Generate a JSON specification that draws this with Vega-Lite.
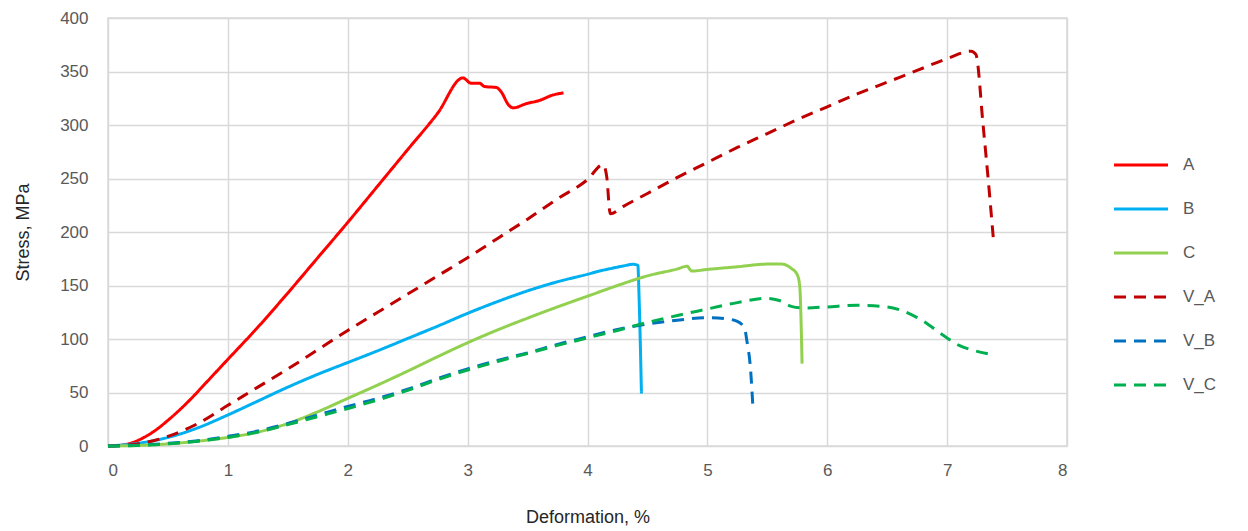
{
  "$schema": "https://vega.github.io/schema/vega-lite/v6.json",
  "width": 959,
  "height": 428,
  "autosize": "none",
  "padding": {"left": 108, "top": 18, "right": 181, "bottom": 85},
  "background": "white",
  "config": {
    "font": "Liberation Sans",
    "view": {"stroke": "#d9d9d9", "strokeWidth": 1.5},
    "axis": {"gridColor": "#d9d9d9", "gridWidth": 1.5, "domain": false, "ticks": false, "labelColor": "#595959", "labelFontSize": 17, "titleColor": "#262626", "titleFontSize": 18, "titleFontWeight": "normal"}
  },
  "data": {"values": [
    {"s":"A","x":0,"y":0},{"s":"A","x":0.1,"y":0.5},{"s":"A","x":0.2,"y":3},{"s":"A","x":0.3,"y":8},{"s":"A","x":0.4,"y":15},{"s":"A","x":0.5,"y":24},{"s":"A","x":0.6,"y":34},{"s":"A","x":0.7,"y":45},{"s":"A","x":0.8,"y":57},{"s":"A","x":0.9,"y":69},{"s":"A","x":1.0,"y":81},{"s":"A","x":1.25,"y":111},{"s":"A","x":1.5,"y":143},{"s":"A","x":1.75,"y":176},{"s":"A","x":2.0,"y":209},{"s":"A","x":2.25,"y":243},{"s":"A","x":2.5,"y":277},{"s":"A","x":2.75,"y":311},{"s":"A","x":2.96,"y":344},{"s":"A","x":3.03,"y":339},{"s":"A","x":3.1,"y":339},{"s":"A","x":3.14,"y":336},{"s":"A","x":3.24,"y":335},{"s":"A","x":3.28,"y":331},{"s":"A","x":3.34,"y":319},{"s":"A","x":3.38,"y":316},{"s":"A","x":3.49,"y":320},{"s":"A","x":3.6,"y":323},{"s":"A","x":3.71,"y":328},{"s":"A","x":3.8,"y":330},
    {"s":"B","x":0,"y":0},{"s":"B","x":0.25,"y":2.5},{"s":"B","x":0.5,"y":8},{"s":"B","x":0.75,"y":17},{"s":"B","x":1.0,"y":29},{"s":"B","x":1.25,"y":42},{"s":"B","x":1.5,"y":55},{"s":"B","x":1.75,"y":67},{"s":"B","x":2.0,"y":78},{"s":"B","x":2.25,"y":89},{"s":"B","x":2.5,"y":100.5},{"s":"B","x":2.75,"y":112},{"s":"B","x":3.0,"y":124},{"s":"B","x":3.25,"y":135},{"s":"B","x":3.5,"y":145},{"s":"B","x":3.75,"y":153.5},{"s":"B","x":4.0,"y":160.5},{"s":"B","x":4.1,"y":163.5},{"s":"B","x":4.2,"y":166},{"s":"B","x":4.3,"y":168.3},{"s":"B","x":4.38,"y":169.8},{"s":"B","x":4.42,"y":169},{"s":"B","x":4.43,"y":140},{"s":"B","x":4.45,"y":49},
    {"s":"C","x":0,"y":0},{"s":"C","x":0.25,"y":0.5},{"s":"C","x":0.5,"y":2},{"s":"C","x":0.75,"y":4.5},{"s":"C","x":1.0,"y":8},{"s":"C","x":1.25,"y":13},{"s":"C","x":1.5,"y":21},{"s":"C","x":1.75,"y":32},{"s":"C","x":2.0,"y":44.5},{"s":"C","x":2.25,"y":57},{"s":"C","x":2.5,"y":70},{"s":"C","x":2.75,"y":83.5},{"s":"C","x":3.0,"y":96.5},{"s":"C","x":3.25,"y":108.5},{"s":"C","x":3.5,"y":119.5},{"s":"C","x":3.75,"y":130},{"s":"C","x":4.0,"y":140},{"s":"C","x":4.25,"y":150},{"s":"C","x":4.5,"y":159},{"s":"C","x":4.75,"y":165.5},{"s":"C","x":4.83,"y":168},{"s":"C","x":4.87,"y":163.5},{"s":"C","x":5.0,"y":165},{"s":"C","x":5.25,"y":167.5},{"s":"C","x":5.5,"y":170},{"s":"C","x":5.62,"y":170},{"s":"C","x":5.7,"y":166},{"s":"C","x":5.75,"y":160},{"s":"C","x":5.77,"y":150},{"s":"C","x":5.79,"y":77},
    {"s":"V_A","x":0,"y":0},{"s":"V_A","x":0.25,"y":2},{"s":"V_A","x":0.5,"y":9},{"s":"V_A","x":0.75,"y":21},{"s":"V_A","x":1.0,"y":38},{"s":"V_A","x":1.25,"y":55},{"s":"V_A","x":1.5,"y":72},{"s":"V_A","x":1.75,"y":90},{"s":"V_A","x":2.0,"y":108},{"s":"V_A","x":2.25,"y":125},{"s":"V_A","x":2.5,"y":142},{"s":"V_A","x":2.75,"y":159},{"s":"V_A","x":3.0,"y":176},{"s":"V_A","x":3.25,"y":194},{"s":"V_A","x":3.5,"y":212},{"s":"V_A","x":3.75,"y":231},{"s":"V_A","x":4.0,"y":249},{"s":"V_A","x":4.13,"y":263},{"s":"V_A","x":4.16,"y":252},{"s":"V_A","x":4.19,"y":217},{"s":"V_A","x":4.3,"y":224},{"s":"V_A","x":4.5,"y":236},{"s":"V_A","x":4.75,"y":251},{"s":"V_A","x":5.0,"y":265},{"s":"V_A","x":5.25,"y":279},{"s":"V_A","x":5.5,"y":292},{"s":"V_A","x":5.75,"y":305},{"s":"V_A","x":6.0,"y":317},{"s":"V_A","x":6.25,"y":329},{"s":"V_A","x":6.5,"y":340},{"s":"V_A","x":6.75,"y":351},{"s":"V_A","x":7.0,"y":362},{"s":"V_A","x":7.2,"y":369},{"s":"V_A","x":7.24,"y":366},{"s":"V_A","x":7.3,"y":300},{"s":"V_A","x":7.35,"y":240},{"s":"V_A","x":7.39,"y":188},
    {"s":"V_B","x":0,"y":0},{"s":"V_B","x":0.25,"y":0.7},{"s":"V_B","x":0.5,"y":2.5},{"s":"V_B","x":0.75,"y":5},{"s":"V_B","x":1.0,"y":9},{"s":"V_B","x":1.25,"y":14},{"s":"V_B","x":1.5,"y":21},{"s":"V_B","x":1.75,"y":29},{"s":"V_B","x":2.0,"y":37},{"s":"V_B","x":2.25,"y":44.5},{"s":"V_B","x":2.5,"y":53},{"s":"V_B","x":2.75,"y":63},{"s":"V_B","x":3.0,"y":72},{"s":"V_B","x":3.25,"y":80},{"s":"V_B","x":3.5,"y":87},{"s":"V_B","x":3.75,"y":95},{"s":"V_B","x":4.0,"y":102},{"s":"V_B","x":4.25,"y":109},{"s":"V_B","x":4.5,"y":114},{"s":"V_B","x":4.75,"y":117.5},{"s":"V_B","x":5.0,"y":120},{"s":"V_B","x":5.15,"y":119},{"s":"V_B","x":5.25,"y":116.5},{"s":"V_B","x":5.31,"y":110},{"s":"V_B","x":5.33,"y":98},{"s":"V_B","x":5.36,"y":72},{"s":"V_B","x":5.38,"y":36},
    {"s":"V_C","x":0,"y":0},{"s":"V_C","x":0.25,"y":0.5},{"s":"V_C","x":0.5,"y":2},{"s":"V_C","x":0.75,"y":4.5},{"s":"V_C","x":1.0,"y":8},{"s":"V_C","x":1.25,"y":13},{"s":"V_C","x":1.5,"y":20},{"s":"V_C","x":1.75,"y":27.5},{"s":"V_C","x":2.0,"y":35},{"s":"V_C","x":2.25,"y":43},{"s":"V_C","x":2.5,"y":52},{"s":"V_C","x":2.75,"y":62},{"s":"V_C","x":3.0,"y":71},{"s":"V_C","x":3.25,"y":79},{"s":"V_C","x":3.5,"y":86.5},{"s":"V_C","x":3.75,"y":94},{"s":"V_C","x":4.0,"y":101},{"s":"V_C","x":4.25,"y":108},{"s":"V_C","x":4.5,"y":115.5},{"s":"V_C","x":4.75,"y":122},{"s":"V_C","x":5.0,"y":128},{"s":"V_C","x":5.25,"y":134},{"s":"V_C","x":5.5,"y":138},{"s":"V_C","x":5.6,"y":136},{"s":"V_C","x":5.7,"y":130.5},{"s":"V_C","x":5.8,"y":129},{"s":"V_C","x":6.0,"y":130},{"s":"V_C","x":6.25,"y":131.5},{"s":"V_C","x":6.5,"y":130},{"s":"V_C","x":6.75,"y":120},{"s":"V_C","x":7.0,"y":101},{"s":"V_C","x":7.1,"y":94},{"s":"V_C","x":7.2,"y":90},{"s":"V_C","x":7.35,"y":86}
  ]},
  "mark": {"type": "line", "strokeWidth": 3, "interpolate": "monotone"},
  "encoding": {
    "x": {"field": "x", "type": "quantitative", "title": "Deformation, %", "scale": {"domain": [0, 8], "nice": false}, "axis": {"values": [0,1,2,3,4,5,6,7,8], "labelPadding": 16, "titlePadding": 30}},
    "y": {"field": "y", "type": "quantitative", "title": "Stress, MPa", "scale": {"domain": [0, 400], "nice": false}, "axis": {"values": [0,50,100,150,200,250,300,350,400], "labelPadding": 20, "titlePadding": 27}},
    "color": {"field": "s", "type": "nominal", "title": null,
      "scale": {"domain": ["A","B","C","V_A","V_B","V_C"], "range": ["#ff0000","#00b0f0","#92d050","#c00000","#0070c0","#00b050"]},
      "legend": {"orient": "none", "legendX": 1009, "legendY": 123, "symbolType": "M-1.2,0H1.2", "symbolSize": 2025, "symbolStrokeWidth": 3, "labelFontSize": 17, "labelColor": "#595959", "rowPadding": 12, "labelOffset": 18}},
    "strokeDash": {"field": "s", "type": "nominal", "title": null,
      "scale": {"domain": ["A","B","C","V_A","V_B","V_C"], "range": [[1,0],[1,0],[1,0],[12,8],[12,8],[12,8]]}}
  }
}
